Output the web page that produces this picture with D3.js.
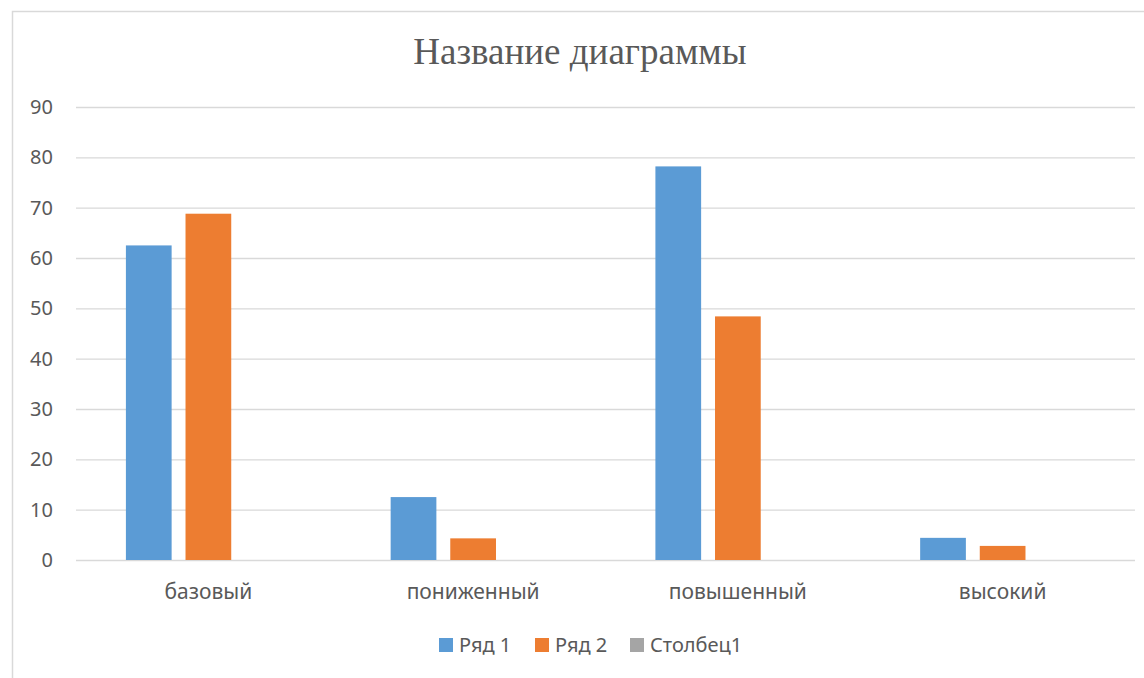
<!DOCTYPE html>
<html>
<head>
<meta charset="utf-8">
<script src="https://cdn.jsdelivr.net/npm/d3@7"></script>
<style>
  body { margin: 0; background: #fff; }
  text { font-family: "Noto Sans", "Open Sans", sans-serif; fill: #595959; }
</style>
</head>
<body>
<div id="chart"></div>
<script>
var categories = ["базовый", "пониженный", "повышенный", "высокий"];
var seriesNames = ["Ряд 1", "Ряд 2", "Столбец1"];
var series1 = [62.5, 12.5, 78.2, 4.4];
var series2 = [68.8, 4.3, 48.4, 2.8];
var series3 = [0, 0, 0, 0];
var yTicks = [0, 10, 20, 30, 40, 50, 60, 70, 80, 90];
var colors = ["#5B9BD5", "#ED7D31", "#A5A5A5"];

var W = 1144, H = 678;
var plotLeft = 76, plotRight = 1135, plotTop = 107, plotBottom = 560;

var svg = d3.select("#chart").append("svg")
    .attr("width", W)
    .attr("height", H);

// chart frame (runs off the right and bottom edge)
svg.append("rect")
    .attr("x", 12.5).attr("y", 11.5)
    .attr("width", 1200).attr("height", 700)
    .attr("fill", "#fff")
    .attr("stroke", "#d9d9d9")
    .attr("stroke-width", 1.5);

var y = d3.scaleLinear().domain([0, 90]).range([plotBottom, plotTop]);

var x0 = d3.scaleBand()
    .domain(categories)
    .range([plotLeft, plotRight])
    .paddingInner(0.377)
    .paddingOuter(0.1885);

var x1 = d3.scaleBand()
    .domain(seriesNames)
    .range([0, x0.bandwidth()])
    .paddingInner(0.233);

// gridlines
svg.append("g")
    .attr("transform", "translate(" + plotLeft + ",0)")
    .call(d3.axisLeft(y).tickValues(yTicks).tickSize(-(plotRight - plotLeft)).tickFormat(""))
    .call(function(g) { g.select(".domain").remove(); })
    .selectAll("line")
    .attr("stroke", "#d9d9d9")
    .attr("stroke-width", 1.3);

// y labels
svg.append("g")
    .selectAll("text")
    .data(yTicks)
    .enter().append("text")
    .attr("x", 53)
    .attr("y", function(d) { return y(d); })
    .attr("dy", "0.35em")
    .attr("text-anchor", "end")
    .attr("font-size", "20px")
    .text(function(d) { return d; });

// bars
var data = categories.map(function(c, i) {
    return { cat: c, values: [series1[i], series2[i], series3[i]] };
});

var groups = svg.append("g")
    .selectAll("g")
    .data(data)
    .enter().append("g")
    .attr("transform", function(d) { return "translate(" + x0(d.cat) + ",0)"; });

groups.selectAll("rect")
    .data(function(d) { return d.values.map(function(v, k) { return { name: seriesNames[k], value: v, k: k }; }); })
    .enter().append("rect")
    .attr("x", function(d) { return x1(d.name); })
    .attr("y", function(d) { return y(d.value); })
    .attr("width", x1.bandwidth())
    .attr("height", function(d) { return plotBottom - y(d.value); })
    .attr("fill", function(d) { return colors[d.k]; });

// category labels
svg.append("g")
    .selectAll("text")
    .data(categories)
    .enter().append("text")
    .attr("x", function(d) { return x0(d) + x0.bandwidth() / 2; })
    .attr("y", 599)
    .attr("text-anchor", "middle")
    .attr("font-size", "21px")
    .text(function(d) { return d; });

// title
svg.append("text")
    .attr("x", 580)
    .attr("y", 64)
    .attr("text-anchor", "middle")
    .style("font-family", "'Liberation Serif', 'DejaVu Serif', serif")
    .attr("font-size", "37px")
    .text("Название диаграммы");

// legend
var legendX = [439, 535, 630];
var legend = svg.append("g")
    .selectAll("g")
    .data(seriesNames)
    .enter().append("g")
    .attr("transform", function(d, i) { return "translate(" + legendX[i] + ",638)"; });

legend.append("rect")
    .attr("width", 14).attr("height", 14)
    .attr("fill", function(d, i) { return colors[i]; });

legend.append("text")
    .attr("x", 20)
    .attr("y", 14)
    .attr("font-size", "20px")
    .text(function(d) { return d; });
</script>
</body>
</html>
